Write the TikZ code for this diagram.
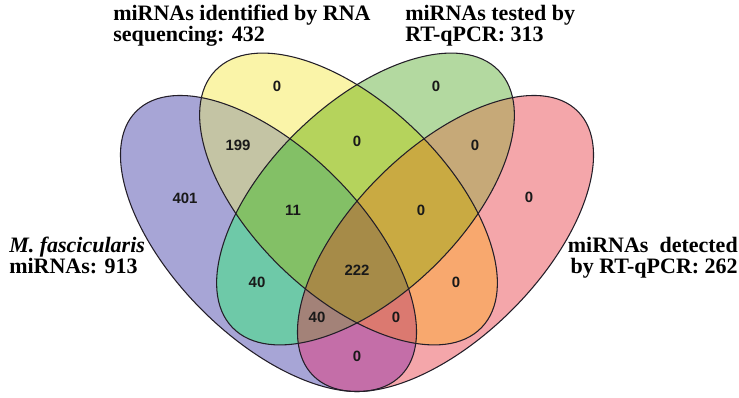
\documentclass[tikz,border=0pt]{standalone}
\usepackage{fontspec}
\setmainfont{Liberation Serif}
\newfontfamily\numfont{Liberation Sans}
\definecolor{cA}{RGB}{167,165,214}
\definecolor{cB}{RGB}{250,244,168}
\definecolor{cC}{RGB}{179,217,160}
\definecolor{cD}{RGB}{244,166,170}
\definecolor{cAB}{RGB}{196,196,164}
\definecolor{cAC}{RGB}{110,201,168}
\definecolor{cAD}{RGB}{196,110,168}
\definecolor{cBC}{RGB}{181,211,92}
\definecolor{cBD}{RGB}{248,168,110}
\definecolor{cCD}{RGB}{198,169,120}
\definecolor{cABC}{RGB}{131,192,102}
\definecolor{cABD}{RGB}{219,121,112}
\definecolor{cACD}{RGB}{163,130,120}
\definecolor{cBCD}{RGB}{201,170,66}
\definecolor{cABCD}{RGB}{166,139,72}
\definecolor{vline}{RGB}{35,30,40}
\tikzset{
  vennline/.style={draw=vline, line width=0.8pt},
  num/.style={font=\numfont\bfseries\fontsize{11.2}{12}\selectfont, text=black!90, inner sep=0pt},
  setlabel/.style={font=\bfseries\fontsize{16.5}{15.5}\selectfont, inner sep=0pt},
}
% the four sets
\newcommand{\ellA}{(268.5,153.5) ellipse [x radius=187, y radius=94, rotate=-45]}
\newcommand{\ellB}{(348.5,198) ellipse [x radius=185, y radius=96, rotate=-44]}
\newcommand{\ellC}{(365.5,198) ellipse [x radius=185, y radius=96, rotate=44]}
\newcommand{\ellD}{(445.5,153.5) ellipse [x radius=187, y radius=94, rotate=45]}
\newcommand{\venncell}[2]{\begin{scope}#1\fill[#2] (0,0) rectangle (739,397);\end{scope}}
\begin{document}
\begin{tikzpicture}[x=0.75pt, y=0.75pt]
    \useasboundingbox (0,0) rectangle (739,397);
    % cells, fewer sets first
    \venncell{\clip\ellA;}{cA}
    \venncell{\clip\ellB;}{cB}
    \venncell{\clip\ellC;}{cC}
    \venncell{\clip\ellD;}{cD}
    \venncell{\clip\ellA;\clip\ellB;}{cAB}
    \venncell{\clip\ellA;\clip\ellC;}{cAC}
    \venncell{\clip\ellA;\clip\ellD;}{cAD}
    \venncell{\clip\ellB;\clip\ellC;}{cBC}
    \venncell{\clip\ellB;\clip\ellD;}{cBD}
    \venncell{\clip\ellC;\clip\ellD;}{cCD}
    \venncell{\clip\ellA;\clip\ellB;\clip\ellC;}{cABC}
    \venncell{\clip\ellA;\clip\ellB;\clip\ellD;}{cABD}
    \venncell{\clip\ellA;\clip\ellC;\clip\ellD;}{cACD}
    \venncell{\clip\ellB;\clip\ellC;\clip\ellD;}{cBCD}
    \venncell{\clip\ellA;\clip\ellB;\clip\ellC;\clip\ellD;}{cABCD}
    \draw[vennline] \ellA;
    \draw[vennline] \ellB;
    \draw[vennline] \ellC;
    \draw[vennline] \ellD;

    \node[num] (nB)    at (277,310.5) {0};
    \node[num] (nC)    at (436,310.5) {0};
    \node[num] (nAB)   at (238,252)   {199};
    \node[num] (nBC)   at (357,256)   {0};
    \node[num] (nCD)   at (475,252)   {0};
    \node[num] (nA)    at (185,199)   {401};
    \node[num] (nABC)  at (293,187)   {11};
    \node[num] (nBCD)  at (421,187)   {0};
    \node[num] (nD)    at (529,200)   {0};
    \node[num] (nABCD) at (357,127)   {222};
    \node[num] (nAC)   at (257,115)   {40};
    \node[num] (nBD)   at (456,115)   {0};
    \node[num] (nACD)  at (317,80)    {40};
    \node[num] (nABD)  at (396,80)    {0};
    \node[num] (nAD)   at (357,41)    {0};

    \node[setlabel, anchor=north west, align=left]  (lB) at (113,392) {miRNAs identified by RNA\\sequencing: 432};
    \node[setlabel, anchor=north west, align=left]  (lC) at (405,392) {miRNAs tested by\\RT-qPCR: 313};
    \node[setlabel, anchor=north west, align=left]  (lA) at (9,160)   {\textit{M. fascicularis}\\miRNAs: 913};
    \node[setlabel, anchor=north east, align=right] (lD) at (738,160) {miRNAs\ \ detected\\by RT-qPCR: 262};
\end{tikzpicture}
\end{document}
